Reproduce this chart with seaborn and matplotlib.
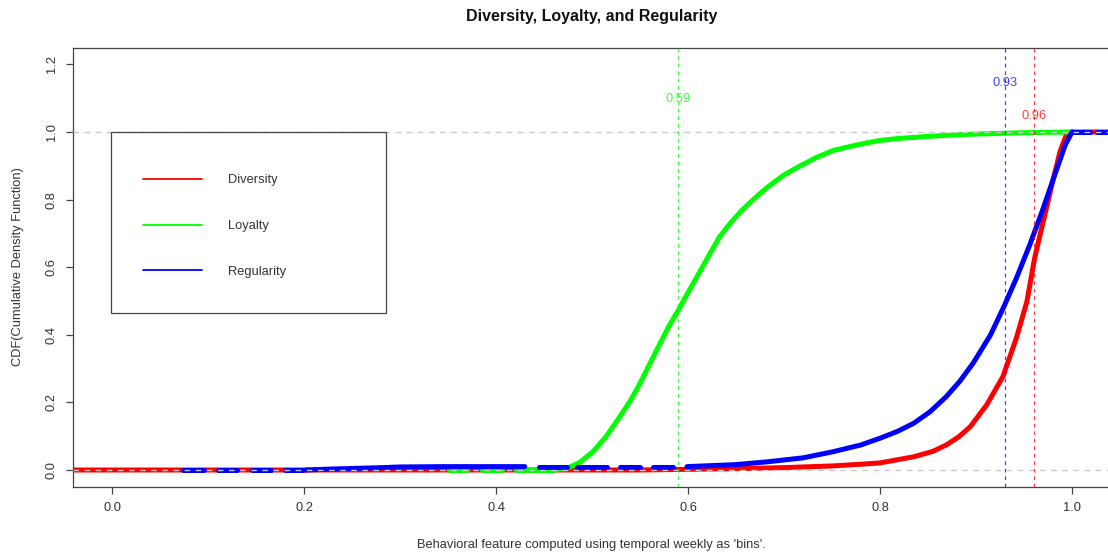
import numpy as np
import pandas as pd
import matplotlib
matplotlib.use("Agg")
import matplotlib.pyplot as plt
from matplotlib.patches import Rectangle
import seaborn as sns

# ---------------- data ----------------
series_names = ["Diversity", "Loyalty", "Regularity"]
series_colors = ["#ff0000", "#00ff00", "#0000ff"]

# Diversity (red) CDF
div_x = [-0.06, 0.55, 0.60, 0.65, 0.70, 0.75, 0.78, 0.80, 0.835, 0.855, 0.869, 0.882,
         0.894, 0.911, 0.928, 0.942, 0.953, 0.961, 0.970, 0.979, 0.9875, 0.994, 1.0, 1.06]
div_y = [0.0, 0.0, 0.002, 0.004, 0.007, 0.012, 0.017, 0.021, 0.039, 0.055, 0.074, 0.098,
         0.128, 0.192, 0.276, 0.390, 0.498, 0.626, 0.735, 0.843, 0.942, 0.991, 1.0, 1.0]

# Loyalty (green) CDF: main rising part
loy_x = [0.46, 0.474, 0.487, 0.501, 0.515, 0.529, 0.54, 0.55, 0.56, 0.571, 0.58, 0.59,
         0.60, 0.612, 0.623, 0.633, 0.644, 0.656, 0.668, 0.682, 0.70, 0.717, 0.734, 0.751,
         0.77, 0.785, 0.80, 0.82, 0.85, 0.89, 0.95, 1.0]
loy_y = [0.0, 0.005, 0.022, 0.054, 0.100, 0.158, 0.205, 0.256, 0.313, 0.375, 0.425, 0.473,
         0.525, 0.585, 0.641, 0.690, 0.730, 0.768, 0.800, 0.835, 0.873, 0.900, 0.925, 0.945,
         0.958, 0.967, 0.975, 0.981, 0.987, 0.993, 0.998, 1.0]
# Loyalty flat steps near zero
loy_flat_start = [0.351, 0.385, 0.421]
loy_flat_end = [0.370, 0.406, 0.460]
loy_flat_y = [0.0, 0.0, 0.0]

# Regularity (blue) CDF: main rising part
reg_x = [0.599, 0.65, 0.682, 0.72, 0.751, 0.78, 0.80, 0.818, 0.835, 0.852, 0.869, 0.883,
         0.897, 0.915, 0.929, 0.942, 0.956, 0.970, 0.982, 0.993, 1.0]
reg_y = [0.010, 0.016, 0.024, 0.036, 0.054, 0.074, 0.094, 0.114, 0.138, 0.172, 0.217, 0.262,
         0.316, 0.399, 0.483, 0.567, 0.666, 0.774, 0.873, 0.962, 1.0]
# Regularity slowly rising low part
reg_low_x = [0.202, 0.23, 0.256, 0.281, 0.30, 0.344, 0.43]
reg_low_y = [0.0, 0.003, 0.005, 0.007, 0.009, 0.010, 0.010]
# Regularity flat steps
reg_flat_start = [0.074, 0.110, 0.146, 0.180, 0.445, 0.484, 0.529, 0.564, 1.0, 1.026]
reg_flat_end = [0.096, 0.130, 0.166, 0.199, 0.474, 0.516, 0.550, 0.584, 1.019, 1.06]
reg_flat_y = [0.0, 0.0, 0.0, 0.0, 0.010, 0.010, 0.010, 0.010, 1.0, 1.0]

# reference lines
ref_x = [0.96, 0.59, 0.93]          # Diversity, Loyalty, Regularity
ref_label_y = [1.047, 1.098, 1.145]
ref_labels = ["0.96", "0.59", "0.93"]
hlines_y = [0.0, 1.0]

x_ticks = [0.0, 0.2, 0.4, 0.6, 0.8, 1.0]
y_ticks = [0.0, 0.2, 0.4, 0.6, 0.8, 1.0, 1.2]

# ---------------- build long table ----------------
rows = []
seg = 0
def add(name, xs, ys):
    global seg
    for xv, yv in zip(xs, ys):
        rows.append({"series": name, "seg": seg, "x": xv, "y": yv})
    seg += 1

add("Diversity", div_x, div_y)
for s, e, yv in zip(loy_flat_start, loy_flat_end, loy_flat_y):
    add("Loyalty", [s, e], [yv, yv])
add("Loyalty", loy_x, loy_y)
for s, e, yv in zip(reg_flat_start, reg_flat_end, reg_flat_y):
    add("Regularity", [s, e], [yv, yv])
add("Regularity", reg_low_x, reg_low_y)
add("Regularity", reg_x, reg_y)
df = pd.DataFrame(rows)

# ---------------- plot ----------------
sns.set_style("white")
plt.rcParams["font.family"] = ["Liberation Sans", "DejaVu Sans"]
text_col = "#333333"
line_col = "#444444"

fig = plt.figure(figsize=(11.08, 5.55), dpi=100)
ax = fig.add_axes([73 / 1108, 1 - 487 / 555, (1108 - 73) / 1108, (487 - 48) / 555])

palette = dict(zip(series_names, series_colors))
sns.lineplot(data=df, x="x", y="y", hue="series", hue_order=series_names, units="seg",
             estimator=None, sort=False, palette=palette, linewidth=3.6,
             solid_capstyle="round", solid_joinstyle="round", ax=ax, legend=True)

ax.set_xlim(-39 / 960, (1108 - 112) / 960)
ax.set_ylim(-17 / 338, 422 / 338)

for yv in hlines_y:
    ax.axhline(yv, color="#c8c8c8", lw=1.0, ls=(0, (4, 4)), zorder=5)

for xv, ly, lab, col in zip(ref_x, ref_label_y, ref_labels, series_colors):
    ax.axvline(xv, color=col, lw=0.9, ls=(0, (3, 3)), alpha=0.75, zorder=6)
    ax.text(xv, ly, lab, color=col, alpha=0.75, fontsize=9.3, ha="center", va="center")

ax.set_xticks(x_ticks)
ax.set_yticks(y_ticks)
ax.set_xticklabels([f"{v:.1f}" for v in x_ticks])
ax.set_yticklabels([f"{v:.1f}" for v in y_ticks], rotation=90, va="center")
ax.tick_params(axis="both", which="major", direction="out", length=5, width=0.9,
               color=line_col, labelcolor=text_col, labelsize=9.3,
               bottom=True, left=True, top=False, right=False)
ax.tick_params(axis="x", pad=5.5)
ax.tick_params(axis="y", pad=6)
for side in ["left", "bottom", "top"]:
    ax.spines[side].set_color(line_col)
    ax.spines[side].set_linewidth(0.9)
ax.spines["right"].set_visible(False)
ax.set_xlabel("")
ax.set_ylabel("")

# legend
handles, labels = ax.get_legend_handles_labels()
for h in handles:
    h.set_linewidth(1.3)
ax.legend(handles, labels, loc="upper left", frameon=False,
          bbox_to_anchor=((137 - 73) / 1035, 1 - (168 - 48) / 439),
          borderpad=0, handlelength=4.5, handletextpad=2.05, labelspacing=2.6,
          fontsize=9.3, labelcolor=text_col)
ax.add_patch(Rectangle((38 / 1035, 1 - (313 - 48) / 439), 275 / 1035, 181 / 439,
                       transform=ax.transAxes, fill=False, edgecolor=line_col, lw=0.9,
                       zorder=7))

fig.text(591.5 / 1108, 1 - 17 / 555, "Diversity, Loyalty, and Regularity",
         ha="center", va="center", fontsize=11.5, fontweight="bold", color="#111111")
fig.text(591.5 / 1108, 1 - 545 / 555,
         "Behavioral feature computed using temporal weekly as 'bins'.",
         ha="center", va="center", fontsize=9.3, color=text_col)
fig.text(18 / 1108, 1 - 267 / 555, "CDF(Cumulative Density Function)",
         ha="center", va="center", rotation=90, fontsize=9.3, color=text_col)

fig.savefig("out.png", dpi=100)
